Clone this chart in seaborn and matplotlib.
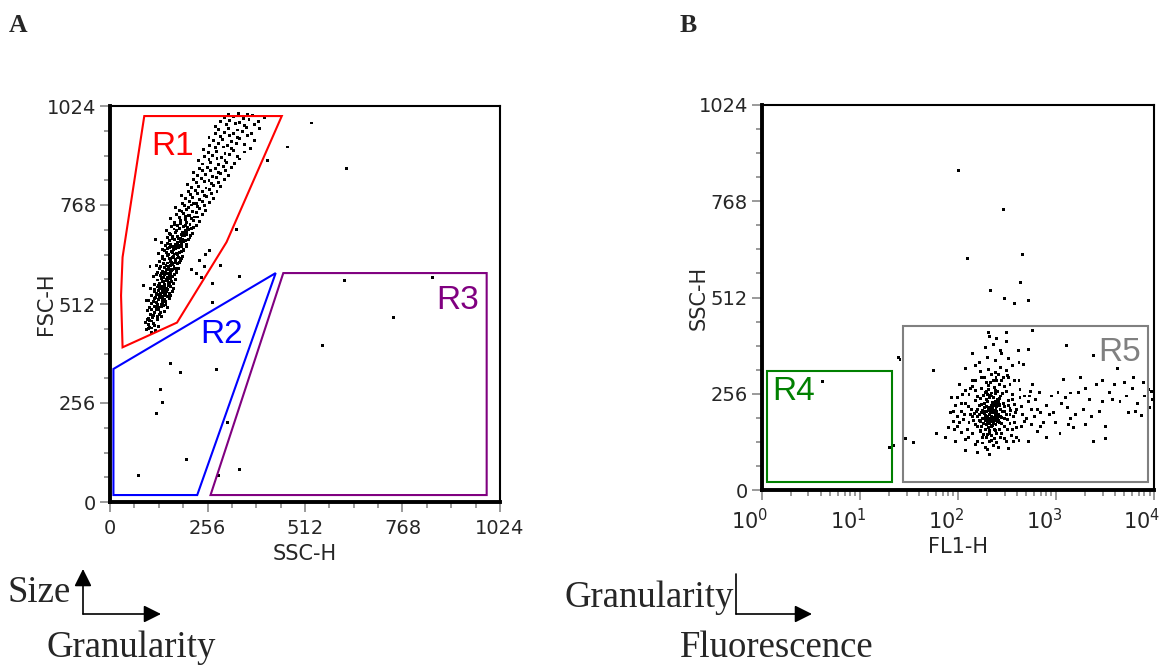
import matplotlib
matplotlib.use("Agg")
import matplotlib.pyplot as plt
import matplotlib.transforms as mtransforms
import seaborn as sns
import pandas as pd
from matplotlib.patches import Polygon
from matplotlib.ticker import FixedLocator, MultipleLocator, LogLocator, NullFormatter

# ---------------- data: panel A (SSC-H vs FSC-H, linear 0-1024) ----------------
a_cloud = [
    (95,445),(108,450),(120,443),(102,458),(115,462),(128,455),(110,468),(92,465),
    (100,474),(112,478),(124,472),(136,480),(106,486),(118,490),(130,485),(142,492),(98,495),(122,498),(114,482),(128,497),
    (104,503),(116,506),(128,502),(140,508),(152,504),(110,514),(122,517),(134,512),(146,519),(100,522),(118,526),(130,528),(142,524),(156,527),(125,510),(137,521),
    (110,533),(122,536),(134,532),(146,538),(158,534),(116,544),(128,547),(140,542),(152,549),(164,545),(106,552),(124,556),(136,558),(148,553),(160,557),(132,540),(144,550),
    (118,563),(130,566),(142,562),(154,568),(166,564),(124,574),(136,577),(148,572),(160,579),(172,575),(114,582),(132,586),(144,588),(156,583),(168,587),(140,569),(152,580),
    (124,593),(137,596),(150,592),(162,598),(175,594),(130,604),(143,607),(156,602),(168,609),(180,605),(122,612),(140,616),(152,618),(164,613),(176,617),(148,600),(160,611),
    (130,623),(144,626),(158,622),(171,628),(184,624),(137,634),(151,637),(164,632),(177,639),(190,635),(128,642),(148,646),(161,648),(174,643),(187,647),(156,630),(168,640),
    (138,653),(152,656),(166,652),(180,658),(194,654),(145,664),(159,667),(173,662),(187,669),(201,665),(136,672),(156,676),(170,678),(184,673),(198,677),(165,660),(178,670),
    (150,683),(165,686),(180,682),(195,688),(210,684),(157,694),(172,697),(187,692),(202,699),(217,695),(148,702),(168,706),(183,708),(198,703),(213,707),(190,690),
    (162,713),(178,716),(194,712),(210,718),(226,714),(170,724),(186,727),(202,722),(218,729),(234,725),(160,732),(182,736),(198,738),(214,733),(230,737),
    (175,743),(192,746),(209,742),(226,748),(243,744),(183,754),(200,757),(217,752),(234,759),(251,755),(172,762),(196,766),(213,768),(230,763),(247,767),
    (190,773),(208,776),(226,772),(244,778),(262,774),(199,784),(217,787),(235,782),(253,789),(271,785),(188,792),(212,796),(230,798),(248,793),(266,797),
    (205,803),(224,806),(243,802),(262,808),(281,804),(214,814),(233,817),(252,812),(271,819),(290,815),(204,822),(228,826),(247,828),(266,823),(285,827),
    (220,833),(240,836),(260,832),(280,838),(300,834),(230,844),(250,847),(270,842),(290,849),(310,845),(218,852),(244,856),(264,858),(284,853),(304,857),
    (234,863),(255,866),(276,862),(297,868),(318,864),(244,874),(265,877),(286,872),(307,879),(328,875),(232,882),(260,886),(281,888),(302,883),(340,887),
    (248,893),(270,896),(292,892),(314,898),(336,894),(258,904),(280,907),(302,902),(324,909),(352,905),(246,912),(276,916),(298,918),(320,913),(370,915),
    (262,923),(285,926),(308,922),(331,928),(354,924),(272,934),(295,937),(318,932),(341,939),(380,935),(260,942),(290,946),(313,948),(336,943),(362,947),
    (276,953),(300,956),(324,952),(348,958),(372,954),(286,964),(310,967),(334,962),(358,969),(392,965),(278,972),(306,976),(330,978),(354,973),(380,977),
    (290,983),(315,986),(340,982),(365,988),(390,984),(300,994),(325,997),(350,992),(375,999),(405,995),(312,1002),(338,1004),(362,1001),
    (126,508),(138,515),(131,531),(143,535),(137,548),(149,545),(143,560),(155,562),(150,574),(162,571),(158,590),(170,588),(163,601),(175,600),
    (170,618),(182,620),(176,631),(188,629),(182,645),(194,650),(188,661),(200,660),(193,674),(205,680),(200,691),(212,690),(206,705),(218,710),
    (121,540),(133,553),(141,580),(147,596),(153,608),(159,626),(167,636),(173,655),(181,664),(186,681),(193,697),(199,715),
    (104,452),(117,457),(99,471),(111,476),(125,479),(133,489),(109,497),(121,504),(135,506),(147,511),(113,519),(127,523),(139,527),(151,531),
    (119,529),(131,537),(145,541),(157,539),(117,549),(129,551),(141,555),(153,559),(167,552),(127,561),(137,570),(149,576),(163,582),(121,589),
    (135,590),(145,593),(159,596),(171,603),(133,609),(147,612),(161,619),(173,624),(139,629),(153,641),(165,645),(179,633),(143,651),(157,659),
    (171,666),(185,662),(151,669),(163,681),(177,687),(191,679),(159,691),(175,701),(189,698),(203,711),(169,718),(185,721),(197,731),(207,742),
    (221,737),(189,751),(205,761),(219,771),
    (215,600),(228,590),(248,610),(240,580),(289,612),(262,650),(236,625),(95,520),(88,560),(105,610),(120,680),(250,640),
]
a_outliers = [
    (530,980),(467,918),(620,863),(615,573),(848,581),(745,477),(557,405),(414,884),(331,704),
    (341,584),(270,565),(270,517),(159,359),(184,335),(280,343),(133,291),(138,257),(123,229),
    (309,206),(201,111),(76,68),(341,84),(284,68),(101,448),(109,439),(103,469),
]
a_points = a_cloud + a_outliers

# gates, panel A
r1_ssc = [90, 451, 306, 176, 33, 29, 33]
r1_fsc = [998, 998, 672, 464, 400, 534, 633]
r2_ssc = [9, 435, 229, 9]
r2_fsc = [344, 592, 18, 18]
r3_ssc = [455, 989, 989, 264]
r3_fsc = [592, 592, 18, 18]

# ---------------- data: panel B (FL1-H log vs SSC-H linear) ----------------
b_points = [
    (101,851),(290,745),(455,627),(435,552),(125,616),(214,531),(300,510),(380,495),(520,505),(4.2,288),
    (24.6,352),(20,112),(29,136),(35.5,127),(57,317),(25.7,347),(22,118),
    (204,419),(316,419),(575,424),(530,374),(415,370),(165,340),(200,352),(240,345),(280,362),(330,350),
    (190,378),(230,386),(270,372),(310,395),(210,408),(250,404),(420,340),(140,364),(360,330),(150,330),(470,335),(120,322),
    (2400,357),(1270,384),(4200,323),(6200,299),(8700,267),(7400,199),(3200,136),(9500,263),(1000,180),(1300,220),
    (1600,200),(2200,240),(2800,210),(3500,260),(4500,235),(6000,270),(8000,250),(1100,150),(1500,165),(2400,130),
    (3200,170),(800,140),(650,155),(950,205),(1250,245),(1800,300),(3000,290),(5000,285),(1200,295),(900,250),
    (1400,258),(2000,270),(5500,205),
    (700,205),(1150,230),(1700,260),(2600,280),(3800,240),(5200,250),(6800,230),(9000,220),(1400,190),(2000,175),
    (95,128),(120,135),(150,122),(180,140),(210,130),(250,126),(300,138),(140,150),(170,155),(200,148),
    (240,158),(280,150),(350,145),(110,152),(420,132),(75,140),(60,150),(520,128),(230,118),(190,112),
    (80,165),(100,170),(125,162),(150,175),(175,168),(200,180),(225,172),(260,185),(300,170),(340,178),
    (400,165),(480,182),(115,188),(140,195),(165,185),(190,198),(215,190),(245,196),(280,192),(320,188),
    (370,196),(90,182),(560,175),(700,170),(205,165),(235,160),
    (85,205),(110,210),(135,202),(160,215),(185,208),(210,220),(235,212),(265,225),(300,210),(340,218),
    (390,205),(450,222),(120,230),(150,238),(175,228),(200,235),(225,232),(255,240),(290,230),(330,238),
    (380,228),(520,235),(650,215),(800,225),(95,225),(215,205),(245,218),
    (100,245),(130,255),(160,248),(190,260),(215,252),(240,265),(270,250),(310,262),(360,255),(430,268),
    (140,275),(175,270),(205,278),(235,272),(265,280),(300,275),(550,262),(120,265),(580,280),
    (150,290),(185,298),(215,285),(245,300),(280,292),(320,305),(380,290),(170,315),(205,320),(240,312),
    (275,325),(310,318),(230,292),(260,308),
    (180,190),(190,185),(200,195),(210,200),(220,195),(230,205),(195,210),(205,215),(215,210),(225,220),
    (185,220),(175,205),(240,200),(250,210),(260,200),(270,215),(165,200),(155,210),(145,185),(235,185),
    (245,175),(255,190),(265,180),(275,195),(195,175),(205,178),(215,182),(225,188),(185,230),(195,240),
    (210,245),(220,250),(230,225),(240,235),(200,255),(190,160),(210,158),(220,168),(230,178),(250,230),
    (120,105),(160,100),(200,108),(260,112),(330,110),(210,95),
    (172,182),(182,176),(192,192),(202,188),(212,176),(222,186),(232,194),(242,190),(252,182),(262,196),
    (178,212),(188,204),(198,222),(208,212),(218,226),(228,214),(238,228),(248,222),(258,236),(268,228),
    (168,226),(158,196),(148,204),(138,214),(128,222),(282,208),(296,222),(312,200),(328,226),(348,212),
    (170,244),(182,252),(194,262),(206,268),(218,258),(230,246),(242,256),(254,262),(268,244),(286,256),
    (160,168),(172,158),(184,148),(196,140),(208,150),(222,144),(236,138),(250,150),(266,162),(280,176),
    (300,190),(320,160),(340,200),(360,240),(380,180),(400,215),(430,245),(460,200),(500,190),(540,250),
    (130,180),(118,200),(108,230),(100,195),(92,160),(86,245),(150,265),(140,290),(176,300),(198,286),
    (222,306),(250,290),(290,300),(340,280),(160,130),(180,125),(220,132),(270,140),(315,128),(360,160),
    (105,180),(112,255),(128,140),(135,270),(400,140),(450,170),(480,250),(600,195),(620,240),(420,290),
    (370,130),(330,300),(90,210),(105,280),(560,215),(680,260),(750,180),(860,200),(1050,260),(1350,175),
    (1900,215),(2300,195),(3000,235),(4000,280),(6500,210),(7800,285),(9600,240),
]

# gates, panel B
r4_fl1 = [1.12, 21.1, 21.1, 1.12]
r4_ssc = [21, 21, 316, 316]
r5_fl1 = [27.9, 8700, 8700, 27.9]
r5_ssc = [21, 21, 437, 437]

lin_ticks = [0, 256, 512, 768, 1024]
lin_ticklabels = ["0", "256", "512", "768", "1024"]
log_ticks = [1, 10, 100, 1000, 10000]
log_ticklabels = [r"$10^{0}$", r"$10^{1}$", r"$10^{2}$", r"$10^{3}$", r"$10^{4}$"]

# ---------------- figure ----------------
sns.set_style("ticks")
plt.rcParams["font.family"] = ["DejaVu Sans"]
plt.rcParams["mathtext.fontset"] = "dejavusans"

W, H = 1163, 666
fig = plt.figure(figsize=(W / 100, H / 100), dpi=100)
axA = fig.add_axes([110 / W, 1 - 502 / H, 390 / W, 396 / H])
axB = fig.add_axes([761.7 / W, 1 - 490 / H, 392.3 / W, 385 / H])

dfA = pd.DataFrame(a_points, columns=["SSC-H", "FSC-H"])
dfB = pd.DataFrame(b_points, columns=["FL1-H", "SSC-H"])

sns.scatterplot(data=dfA, x="SSC-H", y="FSC-H", ax=axA, marker="s", s=4.5,
                color="black", linewidth=0, edgecolor="none", legend=False, zorder=3)
sns.scatterplot(data=dfB, x="FL1-H", y="SSC-H", ax=axB, marker="s", s=4.5,
                color="black", linewidth=0, edgecolor="none", legend=False, zorder=3)

def gate(ax, xs, ys, color):
    ax.add_patch(Polygon(list(zip(xs, ys)), closed=True, fill=False, edgecolor=color,
                         linewidth=1.5, joinstyle="miter", zorder=4))

gate(axA, r1_ssc, r1_fsc, "#ff0000")
gate(axA, r2_ssc, r2_fsc, "#0000ff")
gate(axA, r3_ssc, r3_fsc, "#800080")
axB.set_xscale("log")
gate(axB, r4_fl1, r4_ssc, "#008000")
gate(axB, r5_fl1, r5_ssc, "#808080")

rfont = dict(family=["Liberation Sans", "DejaVu Sans"], fontsize=24, va="baseline", ha="left", zorder=5)
axA.text(108, 897, "R1", color="#ff0000", **rfont)
axA.text(236, 410, "R2", color="#0000ff", **rfont)
axA.text(856, 500, "R3", color="#800080", **rfont)
axB.text(1.27, 239, "R4", color="#008000", **rfont)
axB.text(2670, 344, "R5", color="#808080", **rfont)

tickgray = "#7f7f7f"
for ax in (axA, axB):
    ax.set_ylim(0, 1024)
    ax.yaxis.set_major_locator(FixedLocator(lin_ticks))
    ax.set_yticklabels(lin_ticklabels)
    ax.yaxis.set_minor_locator(MultipleLocator(64))
    for side in ("left", "bottom"):
        ax.spines[side].set_linewidth(2.8)
    for side in ("top", "right"):
        ax.spines[side].set_linewidth(1.5)
        ax.spines[side].set_visible(True)
    for s in ax.spines.values():
        s.set_color("black")
        s.set_zorder(6)
    ax.tick_params(which="major", direction="out", length=7, width=1.1, color=tickgray, labelsize=14)
    ax.tick_params(which="minor", direction="out", length=4, width=1.1, color=tickgray)
    ax.tick_params(axis="y", which="major", pad=3)

axA.set_xlim(0, 1024)
axA.xaxis.set_major_locator(FixedLocator(lin_ticks))
axA.set_xticklabels(lin_ticklabels)
axA.xaxis.set_minor_locator(MultipleLocator(64))
axA.tick_params(axis="x", which="major", pad=5.5)

axB.set_xlim(1, 10000)
axB.xaxis.set_major_locator(FixedLocator(log_ticks))
axB.set_xticklabels(log_ticklabels)
axB.xaxis.set_minor_locator(LogLocator(base=10, subs=range(2, 10)))
axB.xaxis.set_minor_formatter(NullFormatter())
axB.tick_params(axis="x", which="major", pad=6, labelsize=15)
shift = mtransforms.ScaledTranslation(0.065, 0, fig.dpi_scale_trans)
for t in axB.xaxis.get_major_ticks():
    t.label1.set_horizontalalignment("right")
    t.label1.set_transform(t.label1.get_transform() + shift)

axA.set_xlabel("SSC-H", fontsize=15, labelpad=4)
axA.set_ylabel("FSC-H", fontsize=15, labelpad=-7)
axB.set_xlabel("FL1-H", fontsize=15, labelpad=3)
axB.set_ylabel("SSC-H", fontsize=15, labelpad=-7)

serif = ["Liberation Serif", "DejaVu Serif"]
def ftext(x, y, s, **kw):
    fig.text(x / W, 1 - y / H, s, ha="left", va="baseline", family=serif, **kw)

ftext(9, 32, "A", fontsize=18.5, fontweight="bold")
ftext(680, 32, "B", fontsize=18.5, fontweight="bold")
ftext(8, 602, "Size", fontsize=26.5)
ftext(47, 657, "Granularity", fontsize=26.5)
ftext(565, 607, "Granularity", fontsize=26.5)
ftext(680, 657, "Fluorescence", fontsize=26.5)

def arrow(x0, y0, x1, y1, head=True):
    style = "-|>,head_length=0.7,head_width=0.35" if head else "-"
    axA.annotate("", xy=(x1, H - y1), xytext=(x0, H - y0), xycoords="figure pixels",
                 textcoords="figure pixels", annotation_clip=False,
                 arrowprops=dict(arrowstyle=style, mutation_scale=15, lw=1.2,
                                 color="black", shrinkA=0, shrinkB=0))

arrow(83, 614, 83, 569)
arrow(83, 614, 161, 614)
arrow(736, 614, 736, 574, head=False)
arrow(736, 614, 812, 614)

fig.savefig("out.png", dpi=100)
